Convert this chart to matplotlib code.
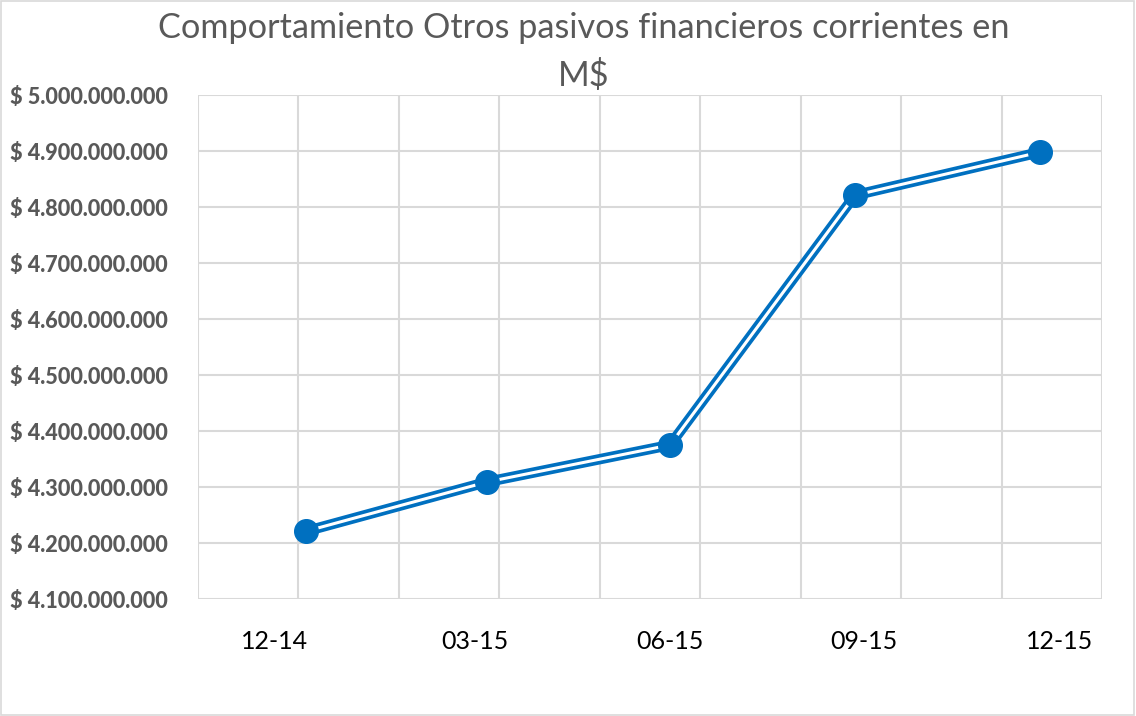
import matplotlib
matplotlib.use("Agg")
import matplotlib.pyplot as plt
from matplotlib.patches import Rectangle
import numpy as np

# data: days after 31-12-2014 for each quarter end, and amounts
periods = ["12-14", "03-15", "06-15", "09-15", "12-15"]
days = [0, 90, 181, 273, 365]
values = [4221000000, 4309000000, 4375000000, 4821000000, 4898000000]

# where excel put the category labels (in days)
label_days = [-15.5, 84, 181, 277.5, 374.5]

blue = "#0070C0"
grid_col = "#d9d9d9"
text_gray = "#595959"

fig = plt.figure(figsize=(11.36, 7.16), dpi=100)
ax = fig.add_axes([198 / 1136, 1 - 599 / 716, 904 / 1136, 504 / 716])

x0, x1 = -53.7, 395.8
ax.set_xlim(x0, x1)
ax.set_ylim(4.1e9, 5.0e9)

for xv in np.linspace(x0, x1, 10):
    ax.axvline(xv, color=grid_col, lw=1.5, zorder=0)
for yv in np.arange(4.1e9, 5.0e9 + 1, 1e8):
    ax.axhline(yv, color=grid_col, lw=1.5, zorder=0)

for s in ax.spines.values():
    s.set_visible(False)

# double line look: thick blue with a thin white line on top
ax.plot(days, values, color=blue, lw=7.5, solid_capstyle="butt", zorder=2)
ax.plot(days, values, color="white", lw=2.2, solid_capstyle="butt", zorder=3)
ax.plot(days, values, "o", color=blue, ms=17, zorder=4)

ax.set_yticks(np.arange(4.1e9, 5.0e9 + 1, 1e8))
ax.set_yticklabels(["$ " + f"{v:,.0f}".replace(",", ".") for v in ax.get_yticks()],
                   fontsize=15.6, fontweight="black", color=text_gray, family="Lato")
ax.set_xticks(label_days)
ax.set_xticklabels(periods, fontsize=18, color="black", family="Lato")
ax.tick_params(axis="both", length=0)
ax.tick_params(axis="y", pad=22)
ax.tick_params(axis="x", pad=22)

fig.text(584 / 1136, 1 - 28 / 716, "Comportamiento Otros pasivos financieros corrientes en",
         ha="center", va="center", fontsize=24.7, color=text_gray, family="Lato")
fig.text(584 / 1136, 1 - 75 / 716, "M$",
         ha="center", va="center", fontsize=24.7, color=text_gray, family="Lato")

fig.patches.append(Rectangle((0.001, 0.001), 0.997, 0.997, transform=fig.transFigure,
                             fill=False, edgecolor=grid_col, lw=1.2))

fig.savefig("out.png", dpi=100, facecolor="white")
